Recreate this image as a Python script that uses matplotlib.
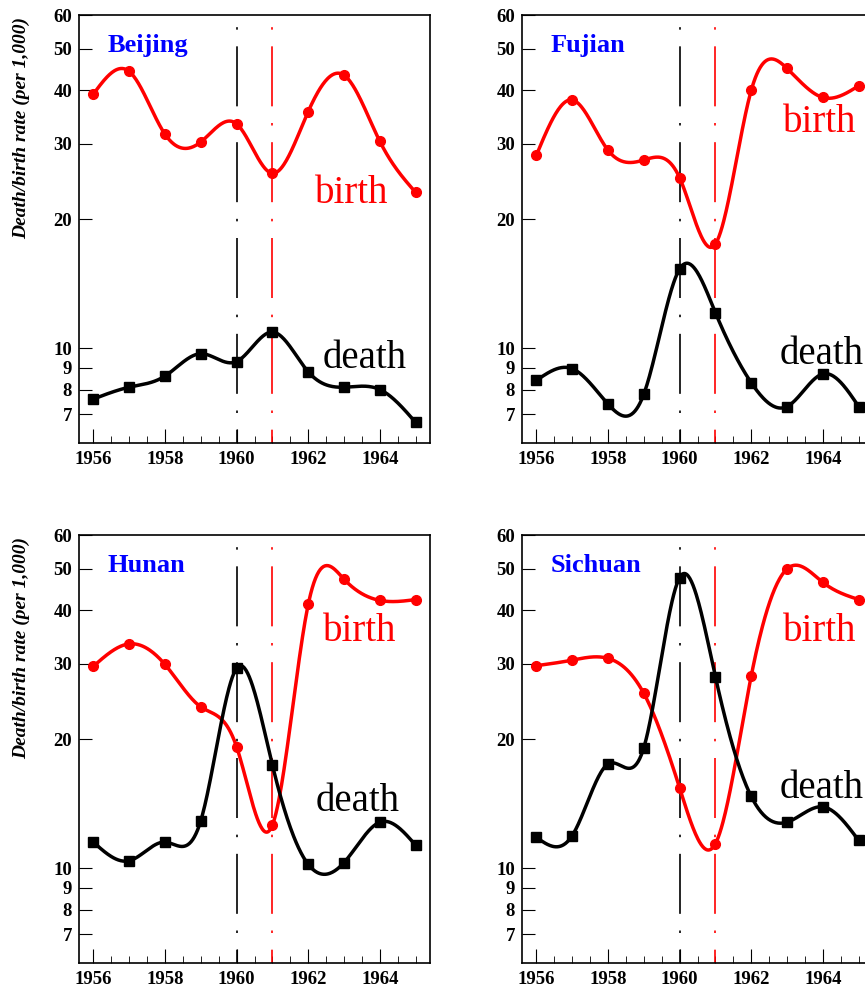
import numpy as np
import matplotlib.pyplot as plt
from matplotlib.ticker import FixedLocator, NullFormatter, MultipleLocator

years = np.arange(1956, 1966)
provinces = ['Beijing', 'Fujian', 'Hunan', 'Sichuan']
birth = {
    'Beijing': [39.2, 44.3, 31.6, 30.3, 33.4, 25.6, 35.7, 43.4, 30.4, 23.1],
    'Fujian': [28.2, 38.0, 29.0, 27.5, 25.0, 17.5, 40.0, 45.0, 38.5, 41.0],
    'Hunan': [29.6, 33.4, 29.9, 23.8, 19.2, 12.6, 41.3, 47.3, 42.2, 42.4],
    'Sichuan': [29.7, 30.6, 30.9, 25.6, 15.4, 11.4, 28.1, 50.0, 46.5, 42.4],
}
death = {
    'Beijing': [7.6, 8.1, 8.6, 9.7, 9.3, 10.9, 8.8, 8.1, 8.0, 6.7],
    'Fujian': [8.4, 8.95, 7.4, 7.8, 15.3, 12.1, 8.3, 7.3, 8.7, 7.3],
    'Hunan': [11.5, 10.4, 11.5, 12.9, 29.3, 17.4, 10.2, 10.3, 12.8, 11.3],
    'Sichuan': [11.8, 11.9, 17.5, 19.1, 47.7, 28.0, 14.7, 12.8, 13.9, 11.6],
}
# label positions (year, value)
birth_lbl = {'Beijing': (1962.2, 21.8), 'Fujian': (1962.9, 32.0),
             'Hunan': (1962.4, 34.0), 'Sichuan': (1962.9, 34.0)}
death_lbl = {'Beijing': (1962.4, 9.0), 'Fujian': (1962.8, 9.2),
             'Hunan': (1962.2, 13.6), 'Sichuan': (1962.8, 14.6)}


def spline(x, y, n=400):
    # natural cubic spline
    x = np.asarray(x, float); y = np.asarray(y, float)
    h = np.diff(x)
    m = len(x)
    A = np.zeros((m, m)); b = np.zeros(m)
    A[0, 0] = A[-1, -1] = 1
    for i in range(1, m - 1):
        A[i, i - 1] = h[i - 1]; A[i, i] = 2 * (h[i - 1] + h[i]); A[i, i + 1] = h[i]
        b[i] = 6 * ((y[i + 1] - y[i]) / h[i] - (y[i] - y[i - 1]) / h[i - 1])
    M = np.linalg.solve(A, b)
    xs = np.linspace(x[0], x[-1], n)
    idx = np.clip(np.searchsorted(x, xs) - 1, 0, m - 2)
    x0, x1 = x[idx], x[idx + 1]; hh = x1 - x0
    t0 = x1 - xs; t1 = xs - x0
    ys = (M[idx] * t0**3 + M[idx + 1] * t1**3) / (6 * hh) \
        + (y[idx] / hh - M[idx] * hh / 6) * t0 + (y[idx + 1] / hh - M[idx + 1] * hh / 6) * t1
    return xs, ys


plt.rcParams['font.family'] = 'Liberation Serif'
fig = plt.figure(figsize=(8.65, 9.89), dpi=100)
W, H = 865, 989
boxes = [(79, 15), (522, 15), (79, 535), (522, 535)]
aw, ah = 351, 428

for i, p in enumerate(provinces):
    l, t = boxes[i]
    ax = fig.add_axes([l / W, 1 - (t + ah) / H, aw / W, ah / H])
    ax.set_yscale('log')
    ax.set_ylim(6.0, 60)
    ax.set_xlim(1955.6, 1965.4)

    for yr, c in [(1960, 'black'), (1961, 'red')]:
        ax.axvline(yr, color=c, lw=1.2, ls=(28, (36, 10, 1.5, 10)))

    xs, ys = spline(years, np.log(birth[p]))
    ax.plot(xs, np.exp(ys), color='red', lw=2.5)
    ax.plot(years, birth[p], 'o', color='red', ms=7)
    xs, ys = spline(years, np.log(death[p]))
    ax.plot(xs, np.exp(ys), color='black', lw=2.5)
    ax.plot(years, death[p], 's', color='black', ms=7.5)

    ax.text(*birth_lbl[p], 'birth', color='red', fontsize=28)
    ax.text(*death_lbl[p], 'death', color='black', fontsize=28)
    ax.text(1956.4, 51, p, color='blue', fontsize=19, fontweight='bold', va='center')

    ax.yaxis.set_major_locator(FixedLocator([7, 8, 9, 10, 20, 30, 40, 50, 60]))
    ax.yaxis.set_minor_locator(FixedLocator([]))
    ax.set_yticklabels(['7', '8', '9', '10', '20', '30', '40', '50', '60'])
    ax.yaxis.set_minor_formatter(NullFormatter())
    ax.set_xticks([1956, 1958, 1960, 1962, 1964])
    ax.xaxis.set_minor_locator(MultipleLocator(0.5))
    ax.tick_params(axis='x', which='major', direction='in', length=10, pad=6)
    ax.tick_params(axis='x', which='minor', direction='in', length=5)
    ax.tick_params(axis='y', direction='in', length=9, pad=5)
    ax.tick_params(top=False, right=False)
    for lab in ax.get_xticklabels() + ax.get_yticklabels():
        lab.set_fontweight('bold'); lab.set_fontsize(13.5)
    for s in ax.spines.values():
        s.set_linewidth(1.2)
    if i % 2 == 0:
        fig.text(21 / W, 1 - (t + 2) / H, 'Death/birth rate (per 1,000)', fontsize=14,
                 fontweight='bold', style='italic', rotation=90, ha='center', va='top')

fig.savefig('out.png', dpi=100)
